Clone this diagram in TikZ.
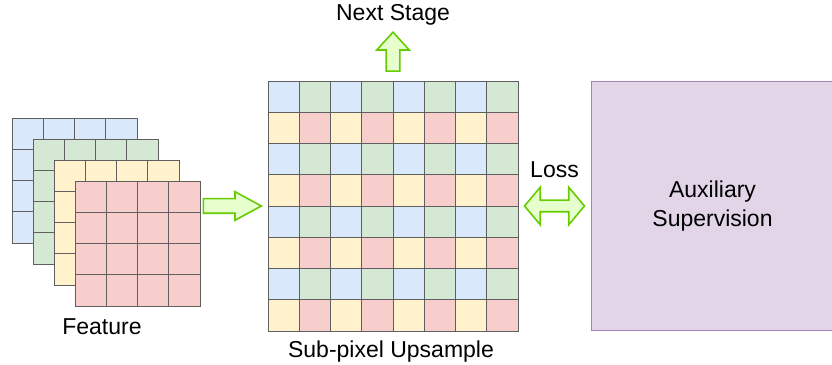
\documentclass[tikz,border=0pt]{standalone}
\usepackage{fontspec}
\setmainfont{Liberation Sans}
\usetikzlibrary{positioning,shapes.arrows,calc}
\definecolor{cblue}{HTML}{DAE8FC}
\definecolor{cgreen}{HTML}{D5E8D4}
\definecolor{cyellow}{HTML}{FFF2CC}
\definecolor{cred}{HTML}{F8CECC}
\definecolor{gridgray}{HTML}{5F5F5F}
\definecolor{auxfill}{HTML}{E1D5E7}
\definecolor{auxstroke}{HTML}{A680B8}
\definecolor{arrowfill}{HTML}{E6FFCC}
\definecolor{arrowgreen}{HTML}{66CC00}
\colorlet{sub0}{cblue}
\colorlet{sub1}{cgreen}
\colorlet{sub2}{cyellow}
\colorlet{sub3}{cred}

\begin{document}
\begin{tikzpicture}[x=1pt,y=1pt,
   cell/.style={draw=gridgray,line width=0.9pt,fill=#1,minimum size=31.25pt,inner sep=0pt,outer sep=0pt,anchor=north west},
   fatarrow/.style={single arrow,draw=arrowgreen,fill=arrowfill,line width=1.6pt,inner xsep=0pt,minimum width=0pt},
   txt/.style={font=\fontsize{23}{29}\selectfont,inner sep=0pt}]
   \useasboundingbox (0,0) rectangle (832,364);
   % feature maps, back to front
   \foreach \l/\c in {0/cblue,1/cgreen,2/cyellow,3/cred}
      \foreach \i in {0,...,3}
         \foreach \j in {0,...,3}
            \node[cell=\c] (f\l_\i\j) at ({12+21*\l+31.25*\i},{246-21*\l-31.25*\j}) {};
   % upsampled grid
   \foreach \i in {0,...,7}
      \foreach \j in {0,...,7} {
         \pgfmathtruncatemacro\k{mod(\i,2)+2*mod(\j,2)}
         \node[cell=sub\k] (g\i_\j) at ({268+31.25*\i},{283-31.25*\j}) {};
      }
   \node[txt,draw=auxstroke,fill=auxfill,line width=1pt,minimum width=242pt,minimum height=249pt,
         anchor=north west,align=center] (aux) at (591,283) {Auxiliary\\Supervision};
   % arrows
   \node[fatarrow,minimum height=58pt,inner ysep=6.5pt,single arrow head extend=7pt,
         single arrow tip angle=57,anchor=tip] (f2g) at ([xshift=-5pt]g0_4.north west) {};
   \node[fatarrow,minimum height=39pt,inner xsep=6pt,inner ysep=0pt,single arrow head extend=9.5pt,
         single arrow tip angle=85,shape border rotate=90,anchor=tail] (g2next) at ([yshift=9pt]g4_0.north west) {};
   \node[fatarrow,double arrow,minimum height=60pt,inner ysep=5pt,double arrow head extend=13pt,
         double arrow tip angle=100] (loss) at ($(g7_4.north east)!0.5!(aux.west)$) {};
   % labels
   \node[txt,anchor=base] (feat) at (102,30) {Feature};
   \node[txt,anchor=base] (sub) at ([xshift=-2pt,yshift=-26pt]g4_7.south west) {Sub-pixel Upsample};
   \node[txt,anchor=base] (next) at ([yshift=11pt]g2next.tip) {Next Stage};
   \node[txt,anchor=base] (losstxt) at ([yshift=28pt]loss.center) {Loss};
\end{tikzpicture}
\end{document}
